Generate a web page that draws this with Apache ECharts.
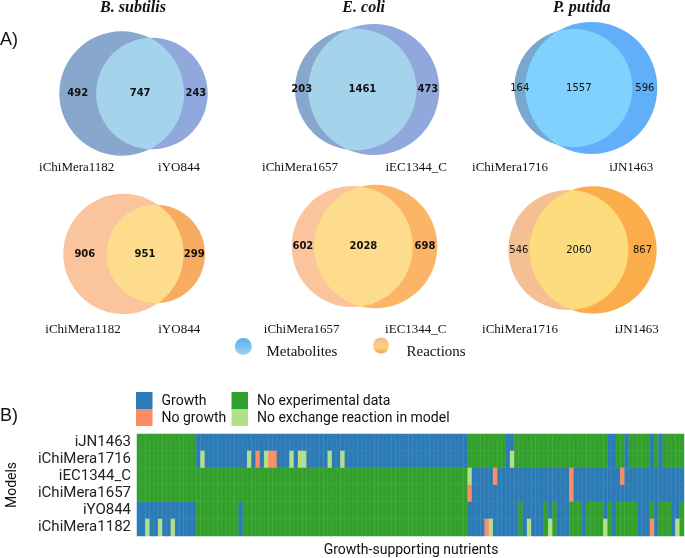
<!DOCTYPE html>
<html><head><meta charset="utf-8">
<script src="https://cdn.jsdelivr.net/npm/echarts@6/dist/echarts.min.js"></script>
<style>html,body{margin:0;padding:0;background:#fff}#c{width:685px;height:558px}</style>
</head><body><div id="c"></div>
<script>
// ---------------- DATA ----------------
const species = ['B. subtilis', 'E. coli', 'P. putida'];
const chimeraModels = ['iChiMera1182', 'iChiMera1657', 'iChiMera1716'];
const referenceModels = ['iYO844', 'iEC1344_C', 'iJN1463'];
const metabolitesChimeraOnly = [492, 203, 164];
const metabolitesShared = [747, 1461, 1557];
const metabolitesReferenceOnly = [243, 473, 596];
const reactionsChimeraOnly = [906, 602, 546];
const reactionsShared = [951, 2028, 2060];
const reactionsReferenceOnly = [299, 698, 867];
const vennLegend = ['Metabolites', 'Reactions'];

const heatmapModels = ['iJN1463', 'iChiMera1716', 'iEC1344_C', 'iChiMera1657', 'iYO844', 'iChiMera1182'];
const outcomeCategories = ['Growth', 'No growth', 'No experimental data', 'No exchange reaction in model'];
// 0 = Growth, 1 = No growth, 2 = No experimental data, 3 = No exchange reaction in model
const row_iJN1463 = [
 2,2,2,2,2,2,2,2,2,2, 2,2,2,2,0,0,0,0,0,0, 0,0,0,0,0,0,0,0,0,0, 0,0,0,0,0,0,0,0,0,0,
 0,0,0,0,0,0,0,0,0,0, 0,0,0,0,0,0,0,0,0,0, 0,0,0,0,0,0,0,0,0,0, 0,0,0,0,0,0,0,0,2,2,
 2,2,2,2,2,2,2,0,0,2, 2,2,2,2,2,2,2,2,2,2, 2,2,2,2,2,2,2,2,2,2, 2,0,0,2,2,0,2,2,2,2,
 2,0,2,0,2,2,2,2,2];
const row_iChiMera1716 = [
 2,2,2,2,2,2,2,2,2,2, 2,2,2,2,0,3,0,0,0,0, 0,0,0,0,0,0,3,0,1,0, 3,1,1,0,0,0,3,0,3,3,
 0,0,0,0,0,3,0,0,3,0, 0,0,0,0,0,0,0,0,0,0, 0,0,0,0,0,0,0,0,0,0, 0,0,0,0,0,0,0,0,2,2,
 2,2,2,2,2,2,2,0,3,2, 2,2,2,2,2,2,2,2,2,2, 2,2,2,2,2,2,2,2,2,2, 2,0,0,2,2,0,2,2,2,2,
 2,0,2,0,2,2,2,2,2];
const row_iEC1344_C = [
 2,2,2,2,2,2,2,2,2,2, 2,2,2,2,2,2,2,2,2,2, 2,2,2,2,2,2,2,2,2,2, 2,2,2,2,2,2,2,2,2,2,
 2,2,2,2,2,2,2,2,2,2, 2,2,2,2,2,2,2,2,2,2, 2,2,2,2,2,2,2,2,2,2, 2,2,2,2,2,2,2,2,3,0,
 0,0,0,0,1,0,0,0,0,0, 0,0,0,0,0,0,0,0,0,0, 0,0,1,0,0,0,0,0,0,0, 0,0,0,0,1,0,0,0,0,0,
 0,0,0,0,0,0,0,0,0];
const row_iChiMera1657 = [
 2,2,2,2,2,2,2,2,2,2, 2,2,2,2,2,2,2,2,2,2, 2,2,2,2,2,2,2,2,2,2, 2,2,2,2,2,2,2,2,2,2,
 2,2,2,2,2,2,2,2,2,2, 2,2,2,2,2,2,2,2,2,2, 2,2,2,2,2,2,2,2,2,2, 2,2,2,2,2,2,2,2,1,0,
 0,0,0,0,0,0,0,0,0,0, 0,0,0,0,0,0,0,0,0,0, 0,0,1,0,0,0,0,0,0,0, 0,0,0,0,0,0,0,0,0,0,
 0,0,0,0,0,0,0,0,0];
const row_iYO844 = [
 0,0,0,0,0,0,0,0,0,0, 0,0,0,0,2,2,2,2,2,2, 2,2,2,2,0,2,2,2,2,2, 2,2,2,2,2,2,2,2,2,2,
 2,2,2,2,2,2,2,2,2,2, 2,2,2,2,2,2,2,2,2,2, 2,2,2,2,2,2,2,2,2,2, 2,2,2,2,2,2,2,2,0,0,
 0,0,0,0,0,0,0,0,0,0, 2,0,0,0,0,0,2,0,2,0, 0,0,2,2,2,0,2,2,2,2, 0,2,0,2,2,2,2,2,0,0,
 0,2,0,2,2,2,0,0,2];
const row_iChiMera1182 = [
 0,0,3,0,0,3,0,0,3,0, 0,0,0,0,2,2,2,2,2,2, 2,2,2,2,0,2,2,2,2,2, 2,2,2,2,2,2,2,2,2,2,
 2,2,2,2,2,2,2,2,2,2, 2,2,2,2,2,2,2,2,2,2, 2,2,2,2,2,2,2,2,2,2, 2,2,2,2,2,2,2,2,0,0,
 0,0,1,3,0,0,0,0,0,0, 2,0,3,0,0,0,2,3,2,0, 0,0,2,2,2,0,2,2,2,2, 3,2,0,2,2,2,2,2,0,0,
 0,1,0,2,2,2,0,3,2];

// ---------------- STYLE / LAYOUT ----------------
const outcomeColors = ['#2c7bb6', '#fc8d62', '#33a02c', '#b2df8a'];
// [left edge px, right edge px, centre y px] for each Venn (row 1 metabolites, row 2 reactions)
const vennBoxes = [[59.3, 207.7, 93.5], [295, 439.3, 89.5], [514.3, 657.3, 88],
                   [63.3, 205, 254], [291.7, 437.3, 246.5], [508.3, 656.7, 250]];
// [chimera only, reference only, shared]
const vennColors = [
  ['#87a8cc', '#91a8dd', '#a6d3ec'], ['#87a8cc', '#91a8dd', '#a6d3ec'], ['#78a8cf', '#61aff8', '#80d1fd'],
  ['#fac49c', '#f8ac62', '#fddc8d'], ['#fac49c', '#fcb466', '#fddd8d'], ['#f5bf94', '#fbac4b', '#fddc7d']];
const vennNumberWeight = ['bold', 'bold', 'normal'];
// set label centres [x left, x right, y]
const setLabelPos = [[76.7, 179, 168], [300, 416.2, 168], [510, 631.3, 168],
                     [83, 179.2, 330], [301.7, 415.8, 330], [520, 636.7, 330]];
const titleX = [133, 363.7, 581.7];

// ---------------- GEOMETRY ----------------
function lensArea(r1, r2, d) {
  if (d >= r1 + r2) return 0;
  if (d <= Math.abs(r1 - r2)) return Math.PI * Math.min(r1, r2) ** 2;
  const a1 = Math.acos((d * d + r1 * r1 - r2 * r2) / (2 * d * r1));
  const a2 = Math.acos((d * d + r2 * r2 - r1 * r1) / (2 * d * r2));
  return r1 * r1 * a1 + r2 * r2 * a2 -
    0.5 * Math.sqrt((-d + r1 + r2) * (d + r1 - r2) * (d - r1 + r2) * (d + r1 + r2));
}
function vennGeometry(aOnly, shared, bOnly) {
  const r1 = Math.sqrt((aOnly + shared) / Math.PI), r2 = Math.sqrt((bOnly + shared) / Math.PI);
  let lo = Math.abs(r1 - r2) + 1e-9, hi = r1 + r2;
  for (let i = 0; i < 100; i++) {
    const mid = (lo + hi) / 2;
    if (lensArea(r1, r2, mid) > shared) lo = mid; else hi = mid;
  }
  return { r1, r2, d: (lo + hi) / 2 };
}

const grids = [], xAxes = [], yAxes = [], series = [];
for (let k = 0; k < 6; k++) {
  const i = k % 3, isMet = k < 3;
  const a = isMet ? metabolitesChimeraOnly[i] : reactionsChimeraOnly[i];
  const s = isMet ? metabolitesShared[i] : reactionsShared[i];
  const b = isMet ? metabolitesReferenceOnly[i] : reactionsReferenceOnly[i];
  const g = vennGeometry(a, s, b);
  const [L, R, CY] = vennBoxes[k];
  const rmax = Math.max(g.r1, g.r2);
  const scale = (R - L) / (g.r1 + g.d + g.r2);
  grids.push({ left: L, width: R - L, top: CY - rmax * scale, height: 2 * rmax * scale });
  xAxes.push({ type: 'value', gridIndex: k, min: -g.r1, max: g.d + g.r2, show: false });
  yAxes.push({ type: 'value', gridIndex: k, min: -rmax, max: rmax, show: false });
  const cols = vennColors[k];
  const counts = [a, s, b];
  series.push({
    type: 'custom', name: isMet ? vennLegend[0] : vennLegend[1],
    xAxisIndex: k, yAxisIndex: k, data: [[0, 0]], silent: true,
    renderItem: function (params, api) {
      const { r1, r2, d } = g;
      const c1 = api.coord([0, 0]), c2 = api.coord([d, 0]);
      const p1 = api.size([r1, 0])[0], p2 = api.size([r2, 0])[0];
      const x0 = (d * d + r1 * r1 - r2 * r2) / (2 * d);
      const h = Math.sqrt(Math.max(0, r1 * r1 - x0 * x0));
      const t1 = Math.atan2(h, x0), t2 = Math.atan2(h, d - x0);
      const pts = [];
      const n = 80;
      for (let j = 0; j <= n; j++) {
        const an = -t1 + 2 * t1 * j / n;
        pts.push(api.coord([r1 * Math.cos(an), r1 * Math.sin(an)]));
      }
      for (let j = 0; j <= n; j++) {
        const an = Math.PI - t2 + 2 * t2 * j / n;
        pts.push(api.coord([d + r2 * Math.cos(an), r2 * Math.sin(an)]));
      }
      const labelX = [(-r1 + d - r2) / 2, (d - r2 + r1) / 2, (r1 + d + r2) / 2];
      const font = vennNumberWeight[i] + ' 10px "DejaVu Sans"';
      const texts = [0, 1, 2].map(function (m) {
        const p = api.coord([labelX[m], 0]);
        return { type: 'text', style: { text: String(counts[m]), x: p[0], y: p[1], align: 'center', verticalAlign: 'middle', textAlign: 'center', textVerticalAlign: 'middle', font: font, fill: '#111' } };
      });
      return {
        type: 'group',
        children: [
          { type: 'circle', shape: { cx: c1[0], cy: c1[1], r: p1 }, style: { fill: cols[0] } },
          { type: 'circle', shape: { cx: c2[0], cy: c2[1], r: p2 }, style: { fill: cols[1] } },
          { type: 'polygon', shape: { points: pts }, style: { fill: cols[2] } }
        ].concat(texts)
      };
    }
  });
}

// heatmap grid
const nCols = row_iJN1463.length;
const colCategories = Array.from({ length: nCols }, (_, j) => String(j + 1));
const heatRows = [row_iJN1463, row_iChiMera1716, row_iEC1344_C, row_iChiMera1657, row_iYO844, row_iChiMera1182];
const heatData = [];
heatRows.forEach((row, r) => row.forEach((v, c) => heatData.push([c, r, v])));
grids.push({ left: 137, top: 434, width: 547, height: 102 });
xAxes.push({ type: 'category', gridIndex: 6, data: colCategories, axisLine: { show: false }, axisTick: { show: false }, axisLabel: { show: false }, splitLine: { show: false } });
yAxes.push({ type: 'category', gridIndex: 6, data: heatmapModels, inverse: true, axisLine: { show: false }, axisTick: { show: false },
  axisLabel: { interval: 0, margin: 6, fontFamily: 'Roboto', fontSize: 15, color: '#222' } });
series.push({
  type: 'heatmap', name: 'nutrients', xAxisIndex: 6, yAxisIndex: 6, data: heatData, progressive: 0,
  itemStyle: { borderColor: 'rgba(255,255,255,0.12)', borderWidth: 0.5 }, emphasis: { disabled: true }
});

// ---------------- GRAPHIC TEXT ----------------
const graphic = [];
function txt(text, x, y, font, align, extra) {
  return Object.assign({ type: 'text', x: x, y: y, silent: true,
    style: { text: text, font: font, fill: '#111', align: align || 'center', textAlign: align || 'center', verticalAlign: 'middle', textVerticalAlign: 'middle' } }, extra || {});
}
graphic.push(txt('A)', 0, 40, '18px "Liberation Sans"', 'left'));
graphic.push(txt('B)', 0, 416, '18px "Liberation Sans"', 'left'));
species.forEach((s, i) => graphic.push(txt(s, titleX[i], 8, 'italic bold 16px "Liberation Serif"')));
for (let k = 0; k < 6; k++) {
  const i = k % 3;
  graphic.push(txt(chimeraModels[i], setLabelPos[k][0], setLabelPos[k][2], '13px "Liberation Serif"'));
  graphic.push(txt(referenceModels[i], setLabelPos[k][1], setLabelPos[k][2], '13px "Liberation Serif"'));
}
// Venn legend
graphic.push({ type: 'circle', silent: true, shape: { cx: 243.3, cy: 346.5, r: 8.5 },
  style: { fill: new echarts.graphic.LinearGradient(0, 0, 0, 1, [{ offset: 0, color: '#5aaee6' }, { offset: 1, color: '#9ad6f4' }]) } });
graphic.push(txt(vennLegend[0], 266.5, 352, '15px "Liberation Serif"', 'left'));
graphic.push({ type: 'circle', silent: true, shape: { cx: 381, cy: 345.5, r: 8 },
  style: { fill: new echarts.graphic.LinearGradient(0, 0, 0, 1, [{ offset: 0, color: '#f8b88e' }, { offset: 0.6, color: '#fcd47e' }, { offset: 1, color: '#f6a64a' }]) } });
graphic.push(txt(vennLegend[1], 406.5, 352, '15px "Liberation Serif"', 'left'));
// heatmap legend
const legX = [136, 136, 231.5, 231.5], legY = [392, 409, 392, 409];
outcomeCategories.forEach((c, i) => {
  graphic.push({ type: 'rect', silent: true, shape: { x: legX[i], y: legY[i], width: 16.5, height: 17 }, style: { fill: outcomeColors[i] } });
  graphic.push(txt(c, legX[i] + 25.5, legY[i] + 9, '14px Roboto', 'left'));
});
graphic.push(txt('Models', 12, 485, '14px Roboto', 'center', { rotation: Math.PI / 2 }));
graphic.push(txt('Growth-supporting nutrients', 411, 550, '14px Roboto', 'center'));

const chart = echarts.init(document.getElementById('c'), null, { renderer: 'canvas' });
chart.setOption({
  animation: false,
  backgroundColor: '#fff',
  grid: grids, xAxis: xAxes, yAxis: yAxes, series: series,
  visualMap: { type: 'piecewise', show: false, seriesIndex: 6, dimension: 2,
    pieces: outcomeCategories.map((c, i) => ({ value: i, label: c, color: outcomeColors[i] })) },
  graphic: graphic
});
</script></body></html>
